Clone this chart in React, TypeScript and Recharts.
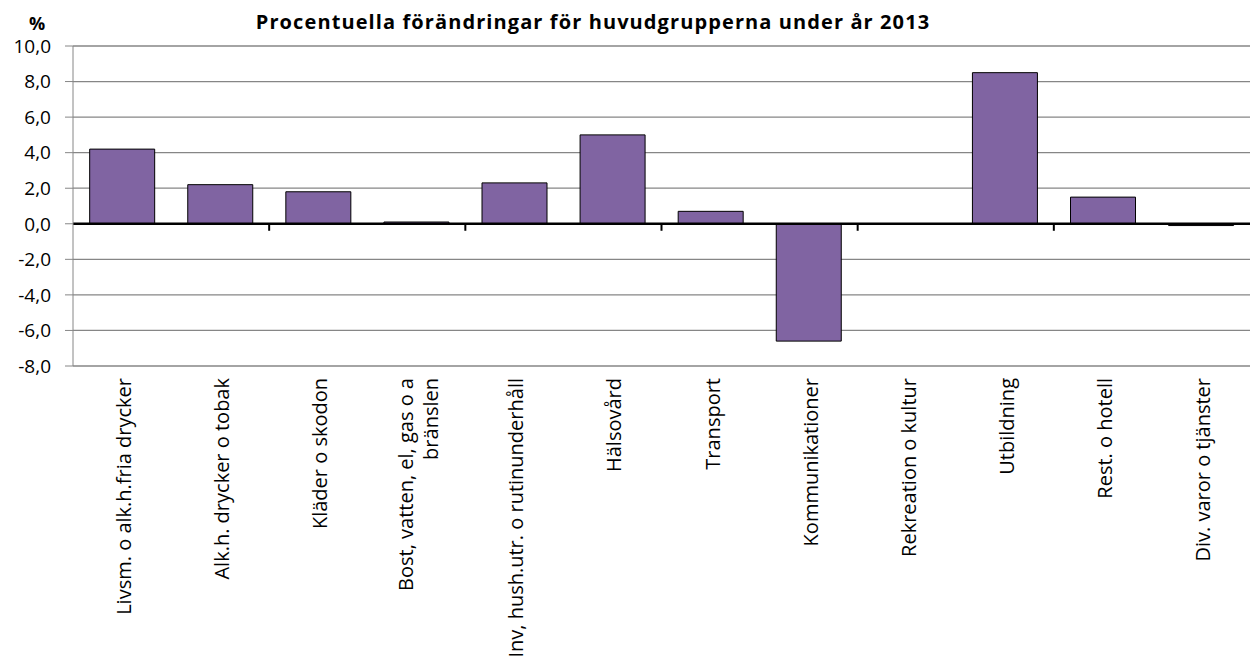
import React from 'react';
import * as Recharts from 'recharts';
import { BarChart, Bar, XAxis, YAxis, CartesianGrid, ReferenceLine } from 'recharts';

const categories: string[] = [
  'Livsm. o alk.h.fria drycker',
  'Alk.h. drycker o tobak',
  'Kläder o skodon',
  'Bost, vatten, el, gas o a\nbränslen',
  'Inv, hush.utr. o rutinunderhåll',
  'Hälsovård',
  'Transport',
  'Kommunikationer',
  'Rekreation o kultur',
  'Utbildning',
  'Rest. o hotell',
  'Div. varor o tjänster',
];

const changes: number[] = [4.2, 2.2, 1.8, 0.1, 2.3, 5.0, 0.7, -6.6, 0.0, 8.5, 1.5, -0.1];

const yTicks: number[] = [-8, -6, -4, -2, 0, 2, 4, 6, 8, 10];
const yDomain: [number, number] = [-8, 10];
const boundaryTicks: number[] = [2, 4, 6, 8, 10];

const data = categories.map((name, i) => ({ name, value: changes[i] }));

const FONT = '"Open Sans", "Liberation Sans", Arial, sans-serif';

const usePlotAreaSafe: () => any = (Recharts as any).usePlotArea || (() => null);

const BoundaryTicks = () => {
  const area = usePlotAreaSafe();
  if (!area) return null;
  const zeroY = area.y + (area.height * yDomain[1]) / (yDomain[1] - yDomain[0]);
  const n = categories.length;
  return (
    <g>
      {boundaryTicks.map((b) => {
        const x = area.x + (area.width * b) / n;
        return <line key={b} x1={x} x2={x} y1={zeroY} y2={zeroY + 7} stroke="#000" strokeWidth={2} />;
      })}
    </g>
  );
};

const XTick = (props: any) => {
  const { x, y, payload } = props;
  const lines: string[] = String(payload.value).split('\n');
  const lh = 25;
  const fs = 20;
  const top = y + 4;
  return (
    <g>
      {lines.map((ln, i) => {
        const cx = x + 2 + (i - (lines.length - 1) / 2) * lh;
        return (
          <text
            key={i}
            x={cx}
            y={top}
            transform={`rotate(-90, ${cx}, ${top})`}
            textAnchor="end"
            dy="0.35em"
            fontFamily={FONT}
            fontSize={fs}
            fill="#000"
          >
            {ln}
          </text>
        );
      })}
    </g>
  );
};

export default function App() {
  return (
    <div style={{ position: 'absolute', left: 0, top: 0, width: 1250, height: 672, background: '#fff', overflow: 'hidden' }}>
      <div
        style={{
          position: 'absolute',
          left: 0,
          width: 1186,
          top: 8,
          textAlign: 'center',
          fontFamily: FONT,
          fontWeight: 'bold',
          fontSize: 20,
          letterSpacing: 1.1,
          color: '#000',
          whiteSpace: 'nowrap',
        }}
      >
        Procentuella förändringar för huvudgrupperna under år 2013
      </div>
      <div
        style={{
          position: 'absolute',
          left: 29,
          top: 12,
          lineHeight: '22px',
          fontFamily: FONT,
          fontWeight: 'bold',
          fontSize: 18,
          color: '#000',
        }}
      >
        %
      </div>
      <div style={{ position: 'absolute', left: 0, top: 0 }}>
        <BarChart
          width={1250}
          height={672}
          data={data}
          margin={{ top: 46, right: 0, bottom: 0, left: 0 }}
          barCategoryGap="17%"
        >
          <CartesianGrid vertical={false} stroke="#868686" strokeWidth={1.3} />
          <XAxis
            dataKey="name"
            interval={0}
            axisLine={false}
            tickLine={false}
            height={306}
            tick={<XTick />}
          />
          <YAxis
            type="number"
            domain={yDomain}
            ticks={yTicks}
            width={73}
            interval={0}
            allowDataOverflow
            tickFormatter={(v: number) => v.toFixed(1).replace('.', ',')}
            stroke="#868686"
            tickSize={8}
            tickMargin={14}
            tick={{ fill: '#000', fontSize: 19, fontFamily: FONT }}
          />
          <Bar dataKey="value" fill="#8064A2" stroke="#000" strokeWidth={1} isAnimationActive={false} />
          <ReferenceLine y={0} stroke="#000" strokeWidth={2.5} />
          <BoundaryTicks />
        </BarChart>
      </div>
    </div>
  );
}
